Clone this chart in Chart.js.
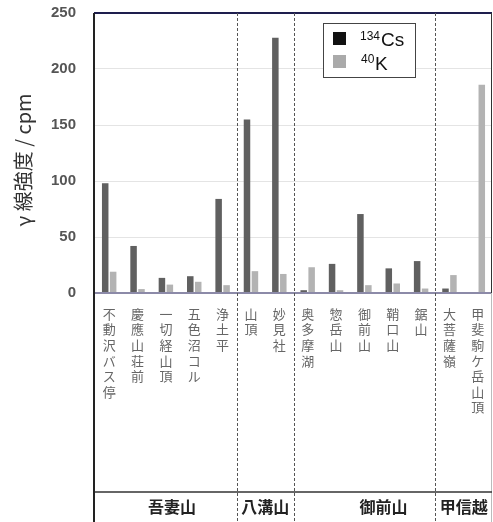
<!DOCTYPE html>
<html>
<head>
<meta charset="utf-8">
<script src="https://cdn.jsdelivr.net/npm/chart.js@4"></script>
<style>
  body { margin: 0; background: #fff; }
  #wrap { width: 493px; height: 522px; position: relative; }
</style>
</head>
<body>
<div id="wrap"><canvas id="gammaChart"></canvas></div>
<script>
// sampling sites (x categories)
const sites = ["不動沢バス停", "慶應山荘前", "一切経山頂", "五色沼コル", "浄土平",
               "山頂", "妙見社",
               "奥多摩湖", "惣岳山", "御前山", "鞘口山", "鋸山",
               "大菩薩嶺", "甲斐駒ケ岳山頂"];
// region groups: name + number of sites in it
const groupNames = ["吾妻山", "八溝山", "御前山", "甲信越"];
const groupSizes = [5, 2, 5, 2];

// gamma count rates (cpm)
const cs134 = [98, 42, 13.5, 15, 84, 155, 228, 2.5, 26, 70.5, 22, 28.5, 4, 0];
const k40 = [19, 3.5, 7.5, 10, 7, 19.5, 17, 23, 2.5, 7, 8.5, 4, 16, 186];

const yTicks = [0, 50, 100, 150, 200, 250];
const yTitle = "γ 線強度 / cpm";

const JP = '"Noto Sans CJK JP", "Noto Sans", sans-serif';
const LAT = '"Liberation Sans", Arial, sans-serif';

// dashed group separators, frame, group labels, legend, y title
const framePlugin = {
    id: "framePlugin",
    afterDraw(chart, args, opts) {
        const ctx = chart.ctx;
        const area = chart.chartArea;
        const x = chart.scales.x;
        const bottom = chart.height;
        const half = (x.getPixelForValue(1) - x.getPixelForValue(0)) / 2;

        ctx.save();

        // zero line
        ctx.strokeStyle = "#8c8aa8";
        ctx.lineWidth = 2;
        ctx.beginPath();
        ctx.moveTo(area.left, area.bottom);
        ctx.lineTo(area.right, area.bottom);
        ctx.stroke();

        // top border
        ctx.strokeStyle = "#1e1e4e";
        ctx.lineWidth = 2;
        ctx.beginPath();
        ctx.moveTo(area.left - 1, area.top);
        ctx.lineTo(area.right, area.top);
        ctx.stroke();

        // right border
        ctx.strokeStyle = "#333";
        ctx.lineWidth = 1;
        ctx.beginPath();
        ctx.moveTo(area.right - 0.5, area.top);
        ctx.lineTo(area.right - 0.5, area.bottom);
        ctx.stroke();
        ctx.strokeStyle = "#bbb";
        ctx.beginPath();
        ctx.moveTo(area.right - 0.5, area.bottom);
        ctx.lineTo(area.right - 0.5, bottom);
        ctx.stroke();

        // left border (runs down through the label area)
        ctx.strokeStyle = "#222";
        ctx.lineWidth = 2;
        ctx.beginPath();
        ctx.moveTo(area.left - 1, area.top);
        ctx.lineTo(area.left - 1, bottom);
        ctx.stroke();

        // line above group names
        ctx.strokeStyle = "#333";
        ctx.lineWidth = 1.5;
        ctx.beginPath();
        ctx.moveTo(area.left, opts.groupLineY);
        ctx.lineTo(area.right, opts.groupLineY);
        ctx.stroke();

        // dashed separators + group names
        let start = 0;
        ctx.font = "bold 16px " + JP;
        ctx.fillStyle = "#222";
        ctx.textAlign = "center";
        ctx.textBaseline = "middle";
        groupSizes.forEach((n, gi) => {
            const end = start + n - 1;
            const x0 = x.getPixelForValue(start) - half;
            const x1 = x.getPixelForValue(end) + half;
            ctx.fillText(groupNames[gi], (x0 + x1) / 2 + opts.groupOffsets[gi], opts.groupTextY);
            if (gi < groupSizes.length - 1) {
                ctx.save();
                ctx.strokeStyle = "#555";
                ctx.lineWidth = 1;
                ctx.setLineDash([3, 2]);
                ctx.beginPath();
                ctx.moveTo(Math.round(x1) + 0.5, area.top);
                ctx.lineTo(Math.round(x1) + 0.5, bottom);
                ctx.stroke();
                ctx.restore();
            }
            start = end + 1;
        });

        // y axis title, rotated
        ctx.save();
        ctx.translate(opts.titleX, opts.titleY);
        ctx.rotate(-Math.PI / 2);
        ctx.font = "20px " + JP;
        ctx.fillStyle = "#333";
        ctx.textAlign = "center";
        ctx.textBaseline = "middle";
        ctx.fillText(yTitle, 0, 0);
        ctx.restore();

        // legend box
        const lg = opts.legend;
        ctx.fillStyle = "#fff";
        ctx.fillRect(lg.x, lg.y, lg.w, lg.h);
        ctx.strokeStyle = "#444";
        ctx.lineWidth = 1;
        ctx.strokeRect(lg.x + 0.5, lg.y + 0.5, lg.w, lg.h);

        ctx.fillStyle = "#111";
        ctx.fillRect(lg.x + 10, lg.y + 9, 13, 13);
        ctx.fillStyle = "#aaa";
        ctx.fillRect(lg.x + 10, lg.y + 32, 13, 13);

        ctx.fillStyle = "#111";
        ctx.textAlign = "left";
        ctx.textBaseline = "alphabetic";
        ctx.font = "12px " + LAT;
        ctx.fillText("134", lg.x + 37, lg.y + 17);
        ctx.font = "19px " + LAT;
        ctx.fillText("Cs", lg.x + 58, lg.y + 23);
        ctx.font = "12px " + LAT;
        ctx.fillText("40", lg.x + 38, lg.y + 40);
        ctx.font = "19px " + LAT;
        ctx.fillText("K", lg.x + 52, lg.y + 47);

        ctx.restore();
    }
};

new Chart(document.getElementById("gammaChart"), {
    type: "bar",
    data: {
        labels: sites.map(s => s.split("")),
        datasets: [{
            label: "134Cs",
            data: cs134,
            backgroundColor: "#606060",
            barPercentage: 0.82,
            categoryPercentage: 0.56
        }, {
            label: "40K",
            data: k40,
            backgroundColor: "#b3b3b3",
            barPercentage: 0.82,
            categoryPercentage: 0.56
        }]
    },
    options: {
        responsive: true,
        maintainAspectRatio: false,
        animation: false,
        layout: { padding: { top: 0, right: 1, left: 0, bottom: 0 } },
        scales: {
            x: {
                afterFit: scale => {
                    scale.height = 229;
                    scale.paddingLeft = 0;
                    scale.paddingRight = 0;
                },
                grid: { display: false, drawTicks: false },
                border: { display: false },
                ticks: {
                    autoSkip: false,
                    maxRotation: 0,
                    minRotation: 0,
                    padding: 13,
                    color: "#666",
                    font: { family: JP, size: 13, lineHeight: 1.2 }
                }
            },
            y: {
                min: 0,
                max: 250,
                afterFit: scale => {
                    scale.width = 95;
                    scale.paddingTop = 13;
                    scale.paddingBottom = 0;
                },
                afterBuildTicks: scale => { scale.ticks = yTicks.map(v => ({ value: v })); },
                border: { display: false },
                grid: {
                    drawTicks: false,
                    color: c => (c.tick.value === 0 || c.tick.value === 250) ? "rgba(0,0,0,0)" : "#e4e4e4"
                },
                ticks: {
                    padding: 19,
                    color: "#555",
                    font: { family: LAT, size: 15, weight: "bold" }
                },
                title: { display: false }
            }
        },
        plugins: {
            legend: { display: false },
            tooltip: { enabled: false },
            framePlugin: {
                groupLineY: 492,
                groupTextY: 507,
                groupOffsets: [6, 0, 19, 0],
                titleX: 23,
                titleY: 160,
                legend: { x: 323, y: 23, w: 92, h: 54 }
            }
        }
    },
    plugins: [framePlugin]
});
</script>
</body>
</html>
